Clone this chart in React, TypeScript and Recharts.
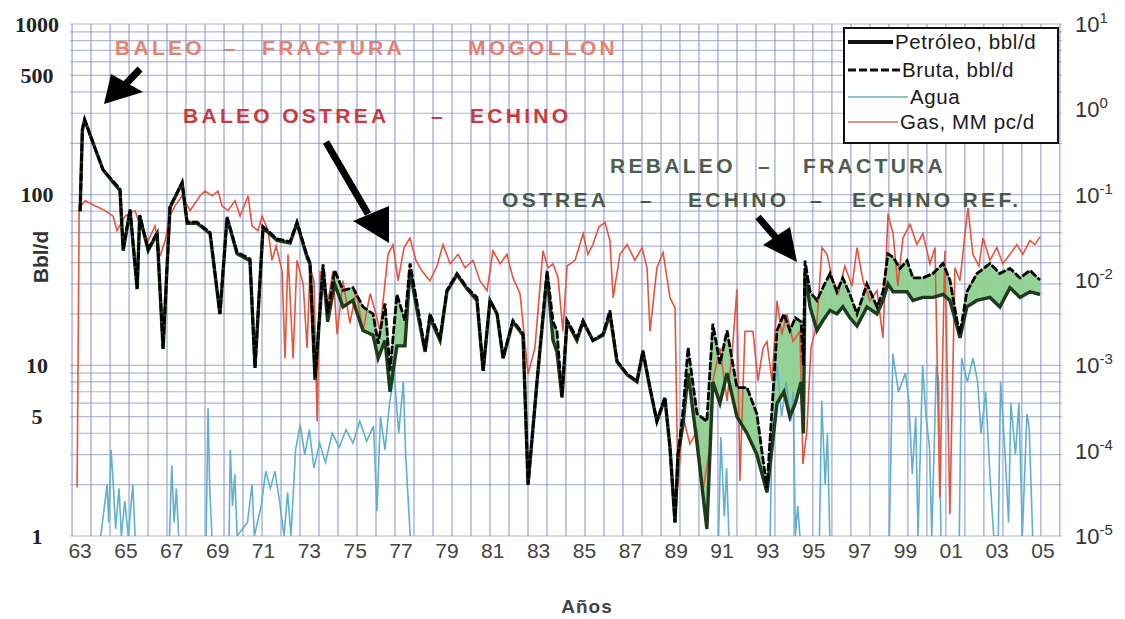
import { Area, CartesianGrid, ComposedChart, Line, XAxis, YAxis } from "recharts";

const X_MIN = 1962.56;
const X_MAX = 2005.83;

const yearTicks = [1963, 1965, 1967, 1969, 1971, 1973, 1975, 1977, 1979, 1981, 1983, 1985, 1987, 1989, 1991, 1993, 1995, 1997, 1999, 2001, 2003, 2005];
const leftTicks = [1, 5, 10, 100, 500, 1000];
const rightTicks = [1e-5, 1e-4, 1e-3, 1e-2, 1e-1, 1, 10];

// Petróleo / Bruta (bbl/d)
const oilYears = [
  1963.0, 1963.1, 1963.2, 1963.57, 1964.0, 1964.44, 1964.74, 1964.88, 1965.18, 1965.49,
  1965.6, 1965.97, 1966.36, 1966.62, 1966.92, 1967.45, 1967.67, 1968.1, 1968.67, 1969.1,
  1969.41, 1969.85, 1970.41, 1970.63, 1970.98, 1971.59, 1972.16, 1972.46, 1972.9, 1973.03,
  1973.25, 1973.6, 1973.8, 1974.1, 1974.47, 1974.9, 1975.34, 1975.78, 1976.0, 1976.3,
  1976.52, 1976.82, 1977.17, 1977.39, 1977.7, 1978.05, 1978.26, 1978.7, 1979.0, 1979.44,
  1979.88, 1980.31, 1980.58, 1980.88, 1981.19, 1981.45, 1981.88, 1982.32, 1982.54, 1982.93,
  1983.37, 1983.63, 1983.8, 1984.02, 1984.24, 1984.67, 1984.94, 1985.37, 1985.81, 1986.11,
  1986.42, 1986.86, 1987.29, 1987.55, 1987.86, 1988.16, 1988.51, 1988.73, 1988.95, 1989.08,
  1989.3, 1989.52, 1989.91, 1990.34, 1990.6, 1990.91, 1991.22, 1991.65, 1992.09, 1992.52,
  1992.96, 1993.4, 1993.7, 1993.96, 1994.2, 1994.45, 1994.55, 1994.62, 1994.84, 1995.14,
  1995.4, 1995.71, 1996.01, 1996.27, 1996.58, 1996.89, 1997.32, 1997.76, 1998.02, 1998.24,
  1998.46, 1998.76, 1999.07, 1999.33, 1999.76, 2000.2, 2000.64, 2000.94, 2001.25, 2001.38,
  2001.68, 2002.12, 2002.69, 2003.12, 2003.56, 2004.0, 2004.43, 2004.87,
];
const oil = [
  80, 240, 275, 200, 140, 118, 106, 47, 81, 28,
  75, 47, 59, 12.5, 84, 117, 68, 68, 59, 20,
  73, 45, 41, 9.7, 64, 54, 52, 68, 43, 39,
  8.2, 37, 18, 30, 22, 24, 16, 15, 11, 14,
  7, 13, 13, 36, 21, 12, 19, 14, 27, 34,
  28, 24, 9.3, 24, 20, 11, 18, 15, 2.0, 8,
  34, 14, 12, 6.5, 18, 14, 18, 14, 15, 20,
  10.5, 8.8, 8, 12, 7.3, 4.7, 6.4, 3.3, 1.2, 3.0,
  4.5, 9, 3.5, 1.1, 8, 6, 9, 5, 4, 3,
  1.8, 6, 7, 5, 6, 8, 4, 35, 22, 16,
  18.3, 21, 20, 22, 19, 17, 22, 20, 24, 30,
  27, 27, 27, 24, 25, 25, 26, 24, 17, 14.5,
  22, 24, 25, 22, 28.5, 25, 27, 26,
];
const bruta = [
  80, 240, 275, 200, 140, 120, 108, 48, 82, 28,
  76, 48, 60, 12.5, 85, 118, 69, 69, 60, 20,
  74, 46, 42, 9.7, 65, 55, 53, 69, 44, 40,
  8.5, 39, 20, 36, 27.5, 28.5, 22, 20, 13.4, 23,
  9.3, 26, 18.3, 39.5, 23, 12.2, 20, 14.5, 27.5, 34.5,
  28.5, 25, 9.3, 24, 20, 11.1, 18.3, 15.3, 2.0, 8,
  36, 18, 16, 6.5, 18.3, 14.5, 18.3, 14, 15.3, 21,
  10.6, 8.9, 8.1, 12.2, 7.4, 4.7, 6.5, 3.3, 1.2, 3.0,
  5.4, 12.7, 5.2, 4.7, 17.5, 10.2, 16, 7.4, 7.4, 5.2,
  1.9, 16, 20, 16, 19, 18, 10, 41, 27, 24,
  28.5, 34.5, 27, 32.5, 26, 20, 30, 22, 27, 45,
  43, 37, 41, 32.5, 32.5, 34.5, 39.5, 31.6, 18.3, 15.3,
  27, 34.5, 39.5, 34.5, 37, 32.5, 36, 31.6,
];

// Gas (MM pc/d), right axis
const gasYears = [
  1962.87, 1962.91, 1962.96, 1963.22, 1963.65, 1964.09, 1964.44, 1964.61, 1964.96, 1965.4,
  1965.62, 1965.97, 1966.27, 1966.49, 1966.71, 1966.92, 1967.14, 1967.45, 1967.8, 1968.23,
  1968.45, 1968.76, 1969.02, 1969.19, 1969.45, 1969.76, 1969.98, 1970.33, 1970.5, 1970.76,
  1970.94, 1971.2, 1971.37, 1971.55, 1971.81, 1971.94, 1972.07, 1972.29, 1972.46, 1972.73,
  1972.9, 1973.03, 1973.2, 1973.34, 1973.47, 1973.82, 1974.03, 1974.21, 1974.47, 1974.77,
  1975.04, 1975.34, 1975.65, 1975.91, 1976.08, 1976.43, 1976.65, 1976.87, 1977.13, 1977.39,
  1977.65, 1977.91, 1978.26, 1978.57, 1978.83, 1979.14, 1979.49, 1979.79, 1980.14, 1980.44,
  1980.75, 1981.01, 1981.32, 1981.62, 1981.88, 1982.19, 1982.54, 1982.84, 1983.19, 1983.41,
  1983.63, 1983.85, 1984.06, 1984.24, 1984.59, 1984.94, 1985.15, 1985.37, 1985.63, 1985.9,
  1986.11, 1986.25, 1986.55, 1986.86, 1987.2, 1987.51, 1987.73, 1987.86, 1988.16, 1988.43,
  1988.73, 1988.95, 1989.08, 1989.3, 1989.6, 1989.91, 1990.17, 1990.47, 1990.6, 1990.91,
  1991.22, 1991.48, 1991.65, 1991.78, 1992.0, 1992.35, 1992.57, 1992.79, 1992.96, 1993.18,
  1993.4, 1993.61, 1993.83, 1994.1, 1994.4, 1994.53, 1994.7, 1994.88, 1995.14, 1995.36,
  1995.58, 1995.8, 1996.06, 1996.36, 1996.67, 1996.89, 1997.15, 1997.45, 1997.76, 1998.02,
  1998.24, 1998.46, 1998.67, 1998.89, 1999.2, 1999.5, 1999.76, 2000.07, 2000.29, 2000.5,
  2000.72, 2000.94, 2001.16, 2001.38, 2001.6, 2001.73, 2001.94, 2002.21, 2002.38, 2002.69,
  2002.99, 2003.25, 2003.56, 2003.86, 2004.12, 2004.43, 2004.65, 2004.87,
];
const gas = [
  3.7e-5, 1e-3, 0.07, 0.085, 0.074, 0.065, 0.056, 0.038, 0.056, 0.065,
  0.043, 0.029, 0.043, 0.019, 0.029, 0.056, 0.074, 0.097, 0.065, 0.097,
  0.11, 0.097, 0.11, 0.074, 0.065, 0.085, 0.056, 0.097, 0.043, 0.038,
  0.056, 0.038, 0.017, 0.025, 0.0128, 0.0012, 0.02, 0.0012, 0.017, 0.009,
  0.0016, 0.014, 0.0098, 2.2e-4, 0.0128, 0.0057, 0.0128, 0.0023, 0.0098, 0.0031,
  0.0075, 0.0025, 0.0069, 0.004, 0.0025, 0.02, 0.026, 0.0098, 0.024, 0.031,
  0.017, 0.0128, 0.0098, 0.0146, 0.026, 0.0155, 0.02, 0.0139, 0.017, 0.0098,
  0.0075, 0.022, 0.0155, 0.02, 0.0106, 0.0069, 7.9e-4, 0.0016, 0.022, 0.0139,
  0.0155, 0.0106, 0.0025, 0.0146, 0.017, 0.035, 0.02, 0.026, 0.042, 0.047,
  0.029, 0.0062, 0.02, 0.026, 0.017, 0.024, 0.0139, 0.0025, 0.0139, 0.021,
  0.0062, 0.0047, 3.7e-5, 2.5e-4, 1.2e-4, 1.7e-4, 3.4e-5, 1.1e-4, 6.6e-4, 0.0016,
  3.8e-4, 0.0019, 0.0078, 4.4e-5, 0.0025, 0.0025, 6.6e-4, 0.0016, 0.0019, 6.6e-4,
  0.0057, 0.0023, 0.004, 0.0019, 0.0025, 7e-5, 1.7e-4, 0.0016, 0.0031, 0.024,
  0.02, 0.0106, 0.0069, 0.0146, 0.0085, 0.024, 0.0098, 0.0057, 0.0075, 0.0021,
  0.06, 0.035, 0.0085, 0.031, 0.045, 0.026, 0.035, 0.0155, 0.024, 2.8e-5,
  0.022, 1.8e-5, 0.0139, 0.0098, 0.035, 0.07, 0.02, 0.0146, 0.031, 0.017,
  0.024, 0.0155, 0.02, 0.026, 0.02, 0.029, 0.026, 0.032,
];

// Agua (bbl/d), spiky, null breaks the line between bursts
const waterYears = [
  1963.9, 1964.18, 1964.25, 1964.35, 1964.45, 1964.55, 1964.7, 1964.8, 1964.95, 1965.1, 1965.3, 1965.4, 1966.0,
  1966.9, 1967.0, 1967.1, 1967.2, 1967.3, 1967.9,
  1968.5, 1968.58, 1968.65, 1968.75, 1969.0,
  1969.5, 1969.55, 1969.65, 1969.75, 1969.85, 1970.3, 1970.5, 1970.6, 1970.9, 1971.1, 1971.3, 1971.5, 1971.7,
  1971.9, 1972.05, 1972.2, 1972.4, 1972.6, 1972.8, 1973.0, 1973.2, 1973.45, 1973.7, 1974.0, 1974.3, 1974.6,
  1974.9, 1975.2, 1975.5, 1975.8, 1975.95, 1976.1, 1976.3, 1976.5, 1976.7, 1976.9, 1977.1, 1977.2, 1977.4, 1980.0,
  1990.85, 1990.95, 1991.1, 1991.2, 1991.3, 1992.0,
  1993.1, 1993.2, 1993.4, 1993.6, 1993.8, 1994.0, 1994.1, 1994.2, 1994.3, 1994.4, 1995.0,
  1995.25, 1995.35, 1995.5, 1995.6, 1995.7, 1997.0,
  1998.3, 1998.45, 1998.7, 1999.0, 1999.15, 1999.3, 1999.45, 1999.55, 1999.75, 1999.9, 2000.05, 2000.15,
  2000.35, 2000.45, 2000.55, 2001.0,
  2001.35, 2001.45, 2001.7, 2001.95, 2002.15, 2002.3, 2002.5, 2002.7, 2002.85,
  2003.05, 2003.15, 2003.35, 2003.5, 2003.6, 2003.8, 2003.95, 2004.1, 2004.3, 2004.4, 2004.55,
];
const water = [
  1, 2, 1.2, 3.2, 2, 1.1, 1.9, 1, 1.6, 1, 2, 1, null,
  1, 2.6, 1.2, 1.9, 1, null,
  1, 5.6, 2, 1, null,
  1, 3.2, 1.5, 2.3, 1, 1.2, 2, 1, 1.5, 2.4, 1.9, 2.4, 1.6,
  1, 1.8, 1, 3.2, 4.5, 3, 4.2, 2.5, 3.5, 2.7, 4, 3.3, 4.2,
  3.5, 4.7, 3.6, 4.4, 1.4, 5, 3.2, 6, 9, 4, 8, 3, 1, null,
  1, 3.8, 1.3, 2.5, 1, null,
  1, 6, 10, 5, 8, 4.7, 7, 1, 1.5, 1, null,
  1, 6.2, 2, 4, 1, null,
  1, 11.7, 7, 9, 6.2, 2.3, 5, 1, 10, 5, 3.3, 1,
  10, 8, 1, null,
  1, 11, 8, 11, 8, 4, 7, 2.1, 1,
  1, 8, 3, 1.2, 6, 3, 6, 1, 5.2, 4.3, 1,
];

const oilData = oilYears.map((year, i) => ({ year, oil: oil[i], bruta: bruta[i], band: [oil[i], bruta[i]] }));
const gasData = gasYears.map((year, i) => ({ year, gas: gas[i] }));
const waterData = waterYears.map((year, i) => ({ year, water: water[i] }));

// grid: minor log lines on the left axis, vertical lines every ~10 months
const gridLevels: number[] = [];
for (const d of [1, 10, 100]) for (let k = 1; k <= 9; k++) gridLevels.push(k * d);
gridLevels.push(1000);
const gridYears: number[] = [];
for (let k = 0; k <= 52; k++) gridYears.push(1962.65 + k * 0.8286);

const sans = "'Liberation Sans', Arial, sans-serif";

function XTick({ x, y, payload }: any) {
  return (
    <text x={x} y={y + 22} textAnchor="middle" fontFamily={sans} fontSize={21} fill="#444">
      {String(payload.value).slice(2)}
    </text>
  );
}

function LeftTick({ y, payload }: any) {
  return (
    <text x={37} y={y + 7.5} textAnchor="middle" fontFamily="'Liberation Serif', 'DejaVu Serif', serif" fontWeight="bold" fontSize={22} fill="#222">
      {payload.value}
    </text>
  );
}

function RightTick({ y, payload }: any) {
  const exp = Math.round(Math.log10(payload.value));
  return (
    <text x={1075} y={y + 8} fontFamily={sans} fontSize={22} fill="#333">
      10
      <tspan dy={-9} fontSize={15}>{exp}</tspan>
    </text>
  );
}

const label = (color: string) => ({
  position: "absolute" as const,
  fontFamily: sans,
  fontWeight: "bold" as const,
  fontSize: 21,
  letterSpacing: 3.3,
  lineHeight: "24px",
  color,
  whiteSpace: "nowrap" as const,
});

const notes: [string, number, number, string][] = [
  ["BALEO", 115, 48, "#e8806f"],
  ["–", 224, 48, "#e8806f"],
  ["FRACTURA", 262, 48, "#e8806f"],
  ["MOGOLLON", 468, 48, "#e8806f"],
  ["BALEO OSTREA", 183, 116, "#c73a40"],
  ["–", 431, 116, "#c73a40"],
  ["ECHINO", 470, 116, "#c73a40"],
  ["REBALEO", 610, 166, "#4f5d4f"],
  ["–", 758, 166, "#4f5d4f"],
  ["FRACTURA", 803, 166, "#4f5d4f"],
  ["OSTREA", 502, 200, "#4a5a4a"],
  ["–", 640, 200, "#4a5a4a"],
  ["ECHINO", 688, 200, "#4a5a4a"],
  ["–", 810, 200, "#4a5a4a"],
  ["ECHINO REF.", 852, 200, "#4a5a4a"],
];

const legendRows: [string, number, number, any][] = [
  ["Petróleo, bbl/d", 42, 895, { stroke: "#111", strokeWidth: 4 }],
  ["Bruta, bbl/d", 70, 902, { stroke: "#111", strokeWidth: 3, strokeDasharray: "8 3" }],
  ["Agua", 97, 910, { stroke: "#6bb5b0", strokeWidth: 1.6 }],
  ["Gas, MM pc/d", 122, 900, { stroke: "#d07060", strokeWidth: 1.6 }],
];

export default function App() {
  return (
    <div style={{ position: "relative", width: 1125, height: 619, background: "#fff" }}>
      <style>{"body{margin:0}"}</style>
      <ComposedChart width={1125} height={619} margin={{ top: 24, right: 3, bottom: 53, left: 8 }}>
        <CartesianGrid
          yAxisId="left"
          vertical={false}
          stroke="#98a0bf"
          strokeOpacity={0.75}
          strokeWidth={1.2}
          horizontalCoordinatesGenerator={({ offset }: any) =>
            gridLevels.map((v) => offset.top + offset.height * (1 - Math.log10(v) / 3))
          }
        />
        <CartesianGrid
          yAxisId="left"
          horizontal={false}
          stroke="#8c91d6"
          strokeOpacity={0.8}
          strokeWidth={1.3}
          verticalCoordinatesGenerator={({ offset }: any) =>
            gridYears.map((v) => offset.left + ((v - X_MIN) / (X_MAX - X_MIN)) * offset.width)
          }
        />
        <XAxis
          type="number"
          dataKey="year"
          domain={[X_MIN, X_MAX]}
          allowDataOverflow
          ticks={yearTicks}
          interval={0}
          axisLine={false}
          tickLine={false}
          tickSize={0}
          tickMargin={0}
          height={30}
          tick={<XTick />}
        />
        <YAxis
          yAxisId="left"
          scale="log"
          domain={[1, 1000]}
          allowDataOverflow
          ticks={leftTicks}
          interval={0}
          axisLine={false}
          tickLine={false}
          width={62}
          tick={<LeftTick />}
        />
        <YAxis
          yAxisId="right"
          orientation="right"
          scale="log"
          domain={[1e-5, 10]}
          allowDataOverflow
          ticks={rightTicks}
          interval={0}
          axisLine={false}
          tickLine={false}
          width={60}
          tick={<RightTick />}
        />
        <Line
          yAxisId="left"
          data={waterData}
          dataKey="water"
          type="linear"
          stroke="#5fb0cc"
          strokeWidth={1.6}
          dot={false}
          isAnimationActive={false}
        />
        <Area
          yAxisId="left"
          data={oilData}
          dataKey="band"
          type="linear"
          stroke="#4f8f4f"
          strokeWidth={1}
          fill="#8fd08f"
          fillOpacity={0.95}
          isAnimationActive={false}
        />
        <Line
          yAxisId="right"
          data={gasData}
          dataKey="gas"
          type="linear"
          stroke="#e5553d"
          strokeWidth={1.6}
          dot={false}
          isAnimationActive={false}
        />
        <Line
          yAxisId="left"
          data={oilData}
          dataKey="oil"
          type="linear"
          stroke="#1d3a1d"
          strokeWidth={3.4}
          dot={false}
          isAnimationActive={false}
        />
        <Line
          yAxisId="left"
          data={oilData}
          dataKey="bruta"
          type="linear"
          stroke="#000"
          strokeWidth={2.8}
          strokeDasharray="8 2"
          dot={false}
          isAnimationActive={false}
        />
      </ComposedChart>

      {notes.map(([t, x, y, c], i) => (
        <div key={i} style={{ ...label(c), left: x, top: y - 12 }}>
          {t}
        </div>
      ))}

      <svg width={1125} height={619} style={{ position: "absolute", left: 0, top: 0, pointerEvents: "none" }}>
        <line x1={140} y1={69} x2={122} y2={88} stroke="#000" strokeWidth={7} />
        <polygon points="104,104 111,74 143,92" fill="#000" />
        <line x1={326} y1={142} x2={368} y2={214} stroke="#000" strokeWidth={7} />
        <polygon points="389,243 353,221 389,206" fill="#000" />
        <line x1={758} y1={217} x2={778} y2={240} stroke="#000" strokeWidth={7} />
        <polygon points="797,262 763,245 790,227" fill="#000" />
        <text
          x={0}
          y={0}
          transform="translate(48,257) rotate(-90)"
          textAnchor="middle"
          fontFamily={sans}
          fontWeight="bold"
          fontSize={21}
          fill="#333"
        >
          Bbl/d
        </text>
        <text x={587} y={613} textAnchor="middle" fontFamily={sans} fontWeight="bold" fontSize={19} fill="#444" letterSpacing={1}>
          Años
        </text>
      </svg>

      <div
        style={{
          position: "absolute",
          left: 843,
          top: 27,
          width: 212,
          height: 113,
          border: "2px solid #111",
          background: "#fff",
        }}
      />
      <svg width={1125} height={619} style={{ position: "absolute", left: 0, top: 0, pointerEvents: "none" }}>
        {legendRows.map(([t, y, tx, st], i) => (
          <g key={i}>
            <line x1={848} x2={tx - 2} y1={y} y2={y} {...st} />
            <text x={tx} y={y + 7} fontFamily={sans} fontSize={20.5} fill="#1a1a1a" letterSpacing={0.6}>
              {t}
            </text>
          </g>
        ))}
      </svg>
    </div>
  );
}
